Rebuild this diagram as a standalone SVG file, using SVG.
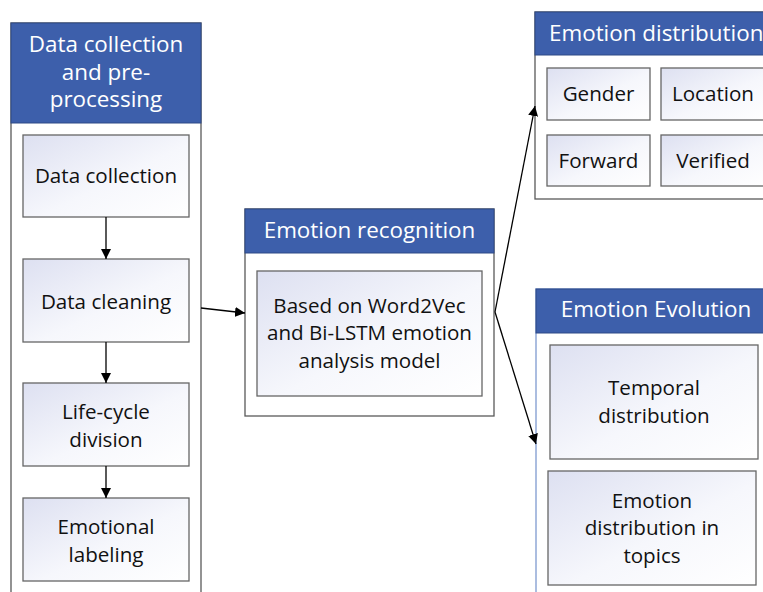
<svg xmlns="http://www.w3.org/2000/svg" width="763" height="592" viewBox="0 0 763 592">
  <defs>
    <linearGradient id="boxFill" x1="0" y1="0" x2="1" y2="1">
      <stop offset="0" stop-color="#dde0f1"/>
      <stop offset="0.55" stop-color="#f6f7fc"/>
      <stop offset="1" stop-color="#ffffff"/>
    </linearGradient>
    <marker id="arrow" viewBox="0 0 10 10" refX="10" refY="5" markerWidth="10" markerHeight="10" markerUnits="userSpaceOnUse" orient="auto">
      <path d="M0,0 L10,5 L0,10 z" fill="#000"/>
    </marker>
  </defs>
  <style>
    .container { fill: #ffffff; stroke: #595959; stroke-width: 1.3; }
    .header { fill: #3d5fab; stroke: #2f4a86; stroke-width: 1; }
    .box { fill: url(#boxFill); stroke: #666666; stroke-width: 1.3; }
    .htext { font-family: "Open Sans", "Noto Sans", sans-serif; font-size: 22.4px; fill: #ffffff; text-anchor: middle; }
    .btext { font-family: "Open Sans", "Noto Sans", sans-serif; font-size: 20.6px; fill: #111111; text-anchor: middle; }
    .edge { stroke: #000; stroke-width: 1.3; fill: none; marker-end: url(#arrow); }
  </style>

  <rect width="763" height="592" fill="#ffffff"/>

  <!-- Data collection and pre-processing -->
  <g id="preprocessing">
    <rect class="container" x="11" y="23" width="190" height="580"/>
    <rect class="header" x="11" y="23" width="190" height="100"/>
    <text class="htext" x="106" y="52">Data collection</text>
    <text class="htext" x="106" y="80">and pre-</text>
    <text class="htext" x="106" y="107">processing</text>
  </g>
  <g id="data-collection">
    <rect class="box" x="23" y="135" width="166" height="82"/>
    <text class="btext" x="106" y="183">Data collection</text>
  </g>
  <g id="data-cleaning">
    <rect class="box" x="23" y="259" width="166" height="83"/>
    <text class="btext" x="106" y="309">Data cleaning</text>
  </g>
  <g id="life-cycle">
    <rect class="box" x="23" y="383" width="166" height="83"/>
    <text class="btext" x="106" y="419">Life-cycle</text>
    <text class="btext" x="106" y="447">division</text>
  </g>
  <g id="emotional-labeling">
    <rect class="box" x="23" y="498" width="166" height="83"/>
    <text class="btext" x="106" y="534">Emotional</text>
    <text class="btext" x="106" y="562">labeling</text>
  </g>

  <!-- Emotion recognition -->
  <g id="emotion-recognition">
    <rect class="container" x="245" y="209" width="249" height="207"/>
    <rect class="header" x="245" y="209" width="249" height="44"/>
    <text class="htext" x="369.5" y="238">Emotion recognition</text>
    <rect class="box" x="257" y="271" width="225" height="125"/>
    <text class="btext" x="369.5" y="313">Based on Word2Vec</text>
    <text class="btext" x="369.5" y="340">and Bi-LSTM emotion</text>
    <text class="btext" x="369.5" y="368">analysis model</text>
  </g>

  <!-- Emotion distribution -->
  <g id="emotion-distribution">
    <rect class="container" x="535" y="12" width="240" height="187"/>
    <rect class="header" x="535" y="12" width="240" height="43"/>
    <text class="htext" x="549" y="41" style="text-anchor:start">Emotion distribution</text>
  </g>
  <g id="gender">
    <rect class="box" x="547" y="68" width="103" height="52"/>
    <text class="btext" x="598.5" y="101">Gender</text>
  </g>
  <g id="location">
    <rect class="box" x="661" y="68" width="110" height="52"/>
    <text class="btext" x="713" y="101">Location</text>
  </g>
  <g id="forward">
    <rect class="box" x="547" y="135" width="103" height="51"/>
    <text class="btext" x="598.5" y="168">Forward</text>
  </g>
  <g id="verified">
    <rect class="box" x="661" y="135" width="110" height="51"/>
    <text class="btext" x="713" y="168">Verified</text>
  </g>

  <!-- Emotion Evolution -->
  <g id="emotion-evolution">
    <rect class="container" x="536" y="289" width="240" height="320" style="stroke:#7f9ad0"/>
    <rect class="header" x="536" y="289" width="240" height="44"/>
    <text class="htext" x="656" y="317">Emotion Evolution</text>
  </g>
  <g id="temporal">
    <rect class="box" x="550" y="345" width="208" height="114"/>
    <text class="btext" x="654" y="395">Temporal</text>
    <text class="btext" x="654" y="423">distribution</text>
  </g>
  <g id="topics">
    <rect class="box" x="548" y="471" width="208" height="114"/>
    <text class="btext" x="652" y="508">Emotion</text>
    <text class="btext" x="652" y="535">distribution in</text>
    <text class="btext" x="652" y="563">topics</text>
  </g>

  <!-- Connectors -->
  <g id="connectors">
    <line class="edge" x1="106" y1="217" x2="106" y2="259"/>
    <line class="edge" x1="106" y1="342" x2="106" y2="383"/>
    <line class="edge" x1="106" y1="466" x2="106" y2="498"/>
    <line class="edge" x1="201" y1="308" x2="245" y2="313"/>
    <line class="edge" x1="495" y1="312" x2="535" y2="106"/>
    <line class="edge" x1="495" y1="312" x2="536" y2="444"/>
  </g>
</svg>
